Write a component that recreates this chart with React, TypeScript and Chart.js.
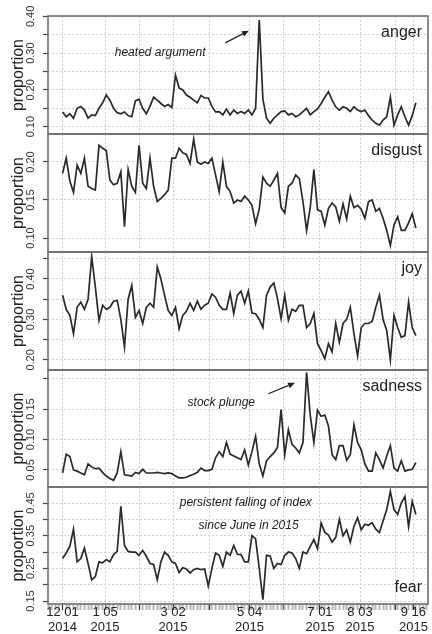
import React, { useEffect, useRef } from 'react';
import { Chart, registerables } from 'chart.js';

Chart.register(...registerables);

const FONT = "'Liberation Sans', Arial, Helvetica, sans-serif";

// sampling: one reading every 3 days starting at 2014-12-01 (day 0)
const STEP_DAYS = 3;

const anger = [
  0.14, 0.127, 0.135, 0.123, 0.15, 0.155, 0.145, 0.123, 0.132, 0.13,
  0.15, 0.165, 0.186, 0.172, 0.15, 0.138, 0.135, 0.14, 0.13, 0.127,
  0.17, 0.175, 0.15, 0.135, 0.155, 0.18, 0.172, 0.163, 0.155, 0.16,
  0.152, 0.24, 0.205, 0.2, 0.186, 0.18, 0.172, 0.165, 0.185, 0.178,
  0.178, 0.155, 0.14, 0.141, 0.132, 0.148, 0.132, 0.145, 0.136, 0.141,
  0.136, 0.145, 0.132, 0.15, 0.39, 0.175, 0.123, 0.109, 0.123, 0.132,
  0.141, 0.143, 0.132, 0.136, 0.127, 0.132, 0.141, 0.15, 0.132, 0.141,
  0.148, 0.163, 0.18, 0.195, 0.172, 0.154, 0.145, 0.154, 0.15, 0.141,
  0.154, 0.145, 0.141, 0.145, 0.13, 0.118, 0.109, 0.104, 0.118, 0.127,
  0.18, 0.104, 0.132, 0.154, 0.127, 0.104, 0.13, 0.165,
];

const disgust = [
  0.185, 0.205, 0.175, 0.16, 0.196, 0.185, 0.205, 0.168, 0.165, 0.163,
  0.222, 0.218, 0.215, 0.176, 0.17, 0.172, 0.187, 0.115, 0.19, 0.168,
  0.16, 0.222, 0.172, 0.165, 0.205, 0.168, 0.148, 0.152, 0.157, 0.163,
  0.205, 0.205, 0.218, 0.212, 0.21, 0.198, 0.23, 0.2, 0.197, 0.2,
  0.198, 0.205, 0.183, 0.161, 0.2, 0.168, 0.161, 0.146, 0.15, 0.148,
  0.155, 0.15, 0.143, 0.119, 0.138, 0.18, 0.172, 0.168, 0.176, 0.185,
  0.14, 0.133, 0.168, 0.172, 0.183, 0.178, 0.148, 0.11, 0.14, 0.19,
  0.137, 0.135, 0.117, 0.139, 0.146, 0.141, 0.122, 0.145, 0.125, 0.155,
  0.14, 0.143, 0.138, 0.126, 0.148, 0.15, 0.135, 0.139, 0.126, 0.11,
  0.09, 0.117, 0.128, 0.11, 0.11, 0.12, 0.132, 0.113,
];

const joy = [
  0.36, 0.325, 0.31, 0.265, 0.33, 0.343, 0.325, 0.35, 0.455, 0.38,
  0.298, 0.335, 0.325, 0.33, 0.345, 0.347, 0.3, 0.232, 0.35, 0.384,
  0.305, 0.322, 0.29, 0.33, 0.34, 0.33, 0.43, 0.4, 0.36, 0.322,
  0.31, 0.33, 0.277, 0.31, 0.32, 0.34, 0.322, 0.345, 0.325, 0.335,
  0.34, 0.363, 0.355, 0.335, 0.325, 0.325, 0.365, 0.315, 0.36, 0.37,
  0.34, 0.37, 0.316, 0.314, 0.3, 0.28, 0.36, 0.38, 0.39, 0.352,
  0.302, 0.36, 0.298, 0.325, 0.32, 0.335, 0.335, 0.28, 0.29, 0.315,
  0.24, 0.223, 0.203, 0.24, 0.22, 0.29, 0.244, 0.29, 0.3, 0.33,
  0.265, 0.21, 0.28, 0.29, 0.29, 0.295, 0.33, 0.36, 0.3, 0.273,
  0.2, 0.31, 0.28, 0.256, 0.26, 0.343, 0.28, 0.26,
];

const sadness = [
  0.045, 0.076, 0.072, 0.05, 0.048, 0.045, 0.042, 0.06, 0.055, 0.052,
  0.053, 0.046, 0.04, 0.036, 0.033, 0.045, 0.08, 0.042, 0.041, 0.04,
  0.046, 0.044, 0.051, 0.045, 0.045, 0.045, 0.046, 0.045, 0.044, 0.045,
  0.044, 0.04, 0.037, 0.037, 0.038, 0.041, 0.043, 0.046, 0.053, 0.049,
  0.049, 0.051, 0.07, 0.08, 0.072, 0.095, 0.076, 0.073, 0.07, 0.067,
  0.083, 0.058, 0.08, 0.105, 0.06, 0.04, 0.065, 0.072, 0.078, 0.087,
  0.149, 0.075, 0.116, 0.092, 0.086, 0.078, 0.095, 0.21, 0.14, 0.095,
  0.148, 0.138, 0.14, 0.122, 0.075, 0.067, 0.09, 0.09, 0.066, 0.075,
  0.124, 0.095, 0.083, 0.06, 0.048, 0.048, 0.078, 0.067, 0.053, 0.073,
  0.09, 0.053, 0.048, 0.065, 0.048, 0.05, 0.051, 0.062,
];

const fear = [
  0.28, 0.297, 0.317, 0.37, 0.27, 0.28, 0.312, 0.265, 0.215, 0.225,
  0.27, 0.267, 0.277, 0.27, 0.292, 0.302, 0.44, 0.32, 0.302, 0.3,
  0.3, 0.29, 0.305, 0.287, 0.265, 0.262, 0.215, 0.27, 0.3, 0.29,
  0.27, 0.265, 0.237, 0.252, 0.248, 0.236, 0.246, 0.25, 0.246, 0.248,
  0.196, 0.25, 0.297, 0.29, 0.256, 0.3, 0.29, 0.32, 0.293, 0.292,
  0.27, 0.27, 0.35, 0.34, 0.25, 0.154, 0.29, 0.288, 0.25, 0.265,
  0.262, 0.29, 0.3, 0.297, 0.28, 0.25, 0.3, 0.295, 0.317, 0.338,
  0.31, 0.389, 0.36, 0.352, 0.33, 0.345, 0.4, 0.35, 0.368, 0.33,
  0.378, 0.405, 0.368, 0.385, 0.382, 0.39, 0.37, 0.36, 0.395, 0.43,
  0.485, 0.43, 0.415, 0.45, 0.47, 0.378, 0.455, 0.415,
];

// day offsets (from 2014-12-01) of month-start grid lines
const monthDays = [0, 35, 63, 91, 121, 154, 182, 212, 245, 274, 289];
const dateLabels: Record<number, string[]> = {
  0: ['12 01', '2014'],
  35: ['1 05', '2015'],
  91: ['3 02', '2015'],
  154: ['5 04', '2015'],
  212: ['7 01', '2015'],
  245: ['8 03', '2015'],
  289: ['9 16', '2015'],
};

const angerTicks = [0.1, 0.15, 0.2, 0.25, 0.3, 0.35, 0.4];
const angerLabels = [0.1, 0.2, 0.3, 0.4];
const disgustTicks = [0.1, 0.15, 0.2];
const disgustLabels = [0.1, 0.15, 0.2];
const joyTicks = [0.2, 0.25, 0.3, 0.35, 0.4, 0.45];
const joyLabels = [0.2, 0.3, 0.4];
const sadnessTicks = [0.05, 0.1, 0.15, 0.2];
const sadnessLabels = [0.05, 0.1, 0.15];
const fearTicks = [0.15, 0.2, 0.25, 0.3, 0.35, 0.4, 0.45];
const fearLabels = [0.15, 0.25, 0.35, 0.45];

type Note = { text: string; x: number; y: number };
type Arrow = { x1: number; y1: number; x2: number; y2: number };

const angerNotes: Note[] = [{ text: 'heated argument', x: 43, y: 0.3 }];
const angerArrows: Arrow[] = [{ x1: 134, y1: 0.328, x2: 153.5, y2: 0.361 }];
const sadnessNotes: Note[] = [{ text: 'stock plunge', x: 103, y: 0.161 }];
const sadnessArrows: Arrow[] = [{ x1: 169.5, y1: 0.175, x2: 191.5, y2: 0.193 }];
const fearNotes: Note[] = [
  { text: 'persistent falling of index', x: 96.5, y: 0.451 },
  { text: 'since June in 2015', x: 112, y: 0.381 },
];

const W = 432;
const H = 634;

const panels = [
  { name: 'anger', values: anger, min: 0.08, max: 0.401, ticks: angerTicks, labels: angerLabels, top: 16, bottom: 134, nameBottom: false, notes: angerNotes, arrows: angerArrows },
  { name: 'disgust', values: disgust, min: 0.0816, max: 0.2368, ticks: disgustTicks, labels: disgustLabels, top: 134, bottom: 252, nameBottom: false, notes: [], arrows: [] },
  { name: 'joy', values: joy, min: 0.175, max: 0.4667, ticks: joyTicks, labels: joyLabels, top: 252, bottom: 370, nameBottom: false, notes: [], arrows: [] },
  { name: 'sadness', values: sadness, min: 0.022, max: 0.214, ticks: sadnessTicks, labels: sadnessLabels, top: 370, bottom: 487, nameBottom: false, notes: sadnessNotes, arrows: sadnessArrows },
  { name: 'fear', values: fear, min: 0.141, max: 0.499, ticks: fearTicks, labels: fearLabels, top: 487, bottom: 604, nameBottom: true, notes: fearNotes, arrows: [] },
];

function buildXTicks(): number[] {
  const s = new Set<number>();
  for (let d = -12; d <= 300; d += STEP_DAYS) s.add(d);
  monthDays.forEach((d) => s.add(d));
  return Array.from(s).sort((a, b) => a - b);
}

function makePlugin(p: (typeof panels)[number]) {
  return {
    id: 'panelDeco_' + p.name,
    afterDraw(chart: any) {
      const { ctx, chartArea: a, scales } = chart;
      const xs = scales.x;
      const ys = scales.y;
      ctx.save();
      // panel frame
      ctx.strokeStyle = '#6f6f6f';
      ctx.lineWidth = 1.6;
      ctx.strokeRect(a.left, a.top, a.right - a.left, a.bottom - a.top);
      // rotated y tick labels
      ctx.fillStyle = '#333';
      ctx.font = `11px ${FONT}`;
      ctx.textAlign = 'center';
      ctx.textBaseline = 'middle';
      p.labels.forEach((v) => {
        const py = ys.getPixelForValue(v);
        ctx.save();
        ctx.translate(a.left - 17, py);
        ctx.rotate(-Math.PI / 2);
        ctx.fillText(v.toFixed(2), 0, 0);
        ctx.restore();
      });
      // axis title
      ctx.save();
      ctx.fillStyle = '#222';
      ctx.font = `16px ${FONT}`;
      ctx.translate(19, (a.top + a.bottom) / 2);
      ctx.rotate(-Math.PI / 2);
      ctx.fillText('proportion', 0, 0);
      ctx.restore();
      // panel name
      ctx.fillStyle = '#222';
      ctx.font = `16px ${FONT}`;
      ctx.textAlign = 'right';
      ctx.fillText(p.name, a.right - 6, p.nameBottom ? a.bottom - 16 : a.top + 17);
      // notes
      ctx.font = `italic 12px ${FONT}`;
      ctx.textAlign = 'left';
      p.notes.forEach((n) => {
        ctx.fillText(n.text, xs.getPixelForValue(n.x), ys.getPixelForValue(n.y));
      });
      // arrows
      ctx.strokeStyle = '#222';
      ctx.fillStyle = '#222';
      ctx.lineWidth = 1.3;
      p.arrows.forEach((ar) => {
        const x1 = xs.getPixelForValue(ar.x1);
        const y1 = ys.getPixelForValue(ar.y1);
        const x2 = xs.getPixelForValue(ar.x2);
        const y2 = ys.getPixelForValue(ar.y2);
        const ang = Math.atan2(y2 - y1, x2 - x1);
        const hl = 7;
        const hw = 3;
        const bx = x2 - hl * Math.cos(ang);
        const by = y2 - hl * Math.sin(ang);
        ctx.beginPath();
        ctx.moveTo(x1, y1);
        ctx.lineTo(bx, by);
        ctx.stroke();
        ctx.beginPath();
        ctx.moveTo(x2, y2);
        ctx.lineTo(bx + hw * Math.sin(ang), by - hw * Math.cos(ang));
        ctx.lineTo(bx - hw * Math.sin(ang), by + hw * Math.cos(ang));
        ctx.closePath();
        ctx.fill();
      });
      ctx.restore();
    },
  };
}

export default function App() {
  const refs = useRef<(HTMLCanvasElement | null)[]>([]);

  useEffect(() => {
    const xTicks = buildXTicks();
    const monthSet = new Set(monthDays);
    const charts: Chart[] = [];
    panels.forEach((p, k) => {
      const canvas = refs.current[k];
      if (!canvas) return;
      const isLast = k === panels.length - 1;
      const cfg: any = {
        type: 'line',
        data: {
          datasets: [
            {
              data: p.values.map((v, i) => ({ x: i * STEP_DAYS, y: v })),
              borderColor: '#2a2a2a',
              borderWidth: 1.7,
              pointRadius: 0,
              tension: 0,
              fill: false,
            },
          ],
        },
        options: {
          responsive: false,
          animation: false,
          devicePixelRatio: 1,
          layout: { padding: { top: p.top, bottom: isLast ? 0 : H - p.bottom, left: 0, right: W - 428 } },
          plugins: { legend: { display: false }, tooltip: { enabled: false } },
          scales: {
            x: {
              type: 'linear',
              min: -12,
              max: 301,
              afterBuildTicks: (s: any) => {
                s.ticks = xTicks.map((v) => ({ value: v }));
              },
              afterFit: (s: any) => {
                s.height = isLast ? H - p.bottom : 0;
              },
              grid: {
                color: (c: any) => (c.tick && monthSet.has(c.tick.value) ? '#cfcfcf' : 'rgba(0,0,0,0)'),
                lineWidth: 1,
                drawTicks: isLast,
                tickLength: 6,
                tickColor: (c: any) => (c.tick && monthSet.has(c.tick.value) ? '#333' : '#b4b4b4'),
                tickWidth: (c: any) => (c.tick && monthSet.has(c.tick.value) ? 1.2 : 2),
              },
              border: { display: false, dash: [2, 2] },
              ticks: {
                display: isLast,
                autoSkip: false,
                maxRotation: 0,
                minRotation: 0,
                padding: -5,
                color: '#222',
                font: { family: FONT, size: 13, lineHeight: 1.15 },
                callback: (v: any) => dateLabels[v as number] || '',
              },
            },
            y: {
              type: 'linear',
              min: p.min,
              max: p.max,
              afterBuildTicks: (s: any) => {
                s.ticks = p.ticks.map((v) => ({ value: v }));
              },
              afterFit: (s: any) => {
                s.width = 48;
              },
              grid: {
                color: '#d2d2d2',
                lineWidth: 1,
                drawTicks: true,
                tickLength: 5,
                tickColor: '#444',
                tickWidth: 1.2,
              },
              border: { display: false, dash: [2, 2] },
              ticks: { display: false },
            },
          },
        },
        plugins: [makePlugin(p)],
      };
      charts.push(new Chart(canvas, cfg));
    });
    return () => charts.forEach((c) => c.destroy());
  }, []);

  return (
    <div style={{ position: 'absolute', left: 0, top: 0, width: W, height: H, background: '#fff' }}>
      {panels.map((p, k) => (
        <canvas
          key={p.name}
          ref={(el) => {
            refs.current[k] = el;
          }}
          width={W}
          height={H}
          style={{ position: 'absolute', left: 0, top: 0, width: W, height: H }}
        />
      ))}
    </div>
  );
}
